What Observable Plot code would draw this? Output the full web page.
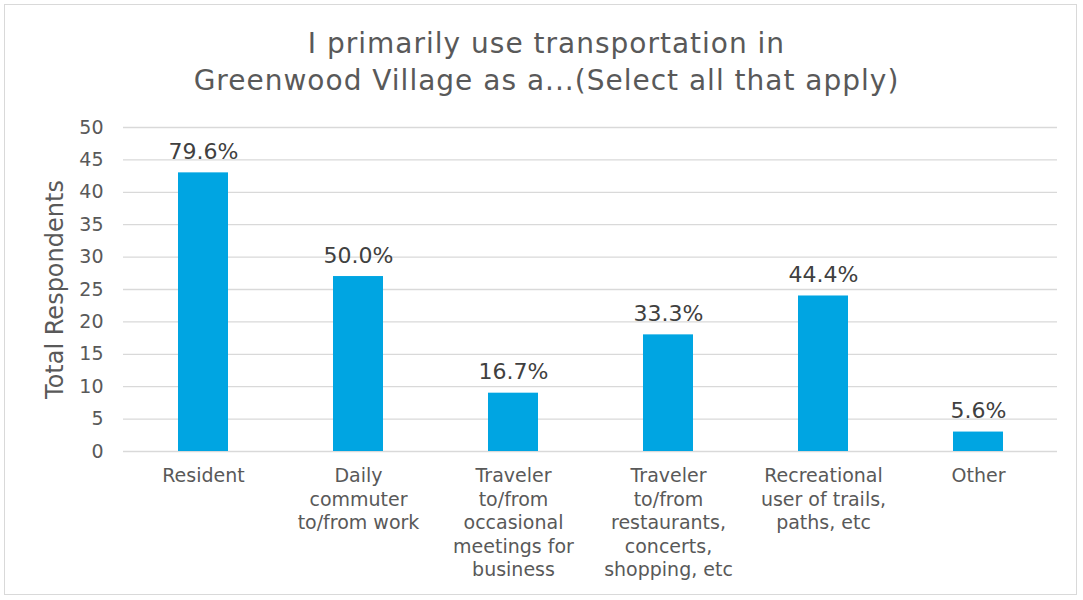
<!DOCTYPE html>
<html>
<head>
<meta charset="utf-8">
<script src="https://cdn.jsdelivr.net/npm/d3@7"></script>
<script src="https://cdn.jsdelivr.net/npm/@observablehq/plot@0.6"></script>
<style>
  body { margin: 0; background: #fff; }
  #frame { position: relative; width: 1073px; height: 591px; margin: 4px 0 0 4px; border: 1px solid #d9d9d9; box-sizing: border-box; overflow: hidden; }
  #title { position: absolute; left: 0px; top: 20px; width: 1083px; text-align: center; font-family: "DejaVu Sans", Verdana, sans-serif; font-size: 28px; letter-spacing: 1px; line-height: 37px; color: #595959; }
  #chart { position: absolute; left: -5px; top: 96px; width: 1083px; height: 499px; }
  #chart svg { max-width: none !important; }
</style>
</head>
<body>
<div id="frame">
  <div id="title">I primarily use transportation in<br>Greenwood Village as a...(Select all that apply)</div>
  <div id="chart"></div>
</div>
<script>
const categories = [
  "Resident",
  "Daily\ncommuter\nto/from work",
  "Traveler\nto/from\noccasional\nmeetings for\nbusiness",
  "Traveler\nto/from\nrestaurants,\nconcerts,\nshopping, etc",
  "Recreational\nuser of trails,\npaths, etc",
  "Other"
];
const respondents = [43, 27, 9, 18, 24, 3];
const percentLabels = ["79.6%", "50.0%", "16.7%", "33.3%", "44.4%", "5.6%"];
const yTicks = [0, 5, 10, 15, 20, 25, 30, 35, 40, 45, 50];

const data = categories.map((c, i) => ({category: c, value: respondents[i], label: percentLabels[i]}));

const chart = Plot.plot({
  width: 1083,
  height: 499,
  marginTop: 26,
  marginBottom: 149,
  marginLeft: 123,
  marginRight: 26,
  style: {fontFamily: "'DejaVu Sans', Verdana, sans-serif", color: "#595959", background: "transparent", overflow: "visible", maxWidth: "none"},
  x: {domain: categories, paddingInner: 0.68, paddingOuter: 0.34, label: null},
  y: {domain: [0, 50], ticks: yTicks, label: null},
  marks: [
    Plot.gridY(yTicks, {stroke: "#d9d9d9", strokeOpacity: 1, strokeWidth: 1.3}),
    Plot.barY(data, {x: "category", y: "value", fill: "#00a5e2"}),
    Plot.text(data, {x: "category", y: "value", text: "label", lineAnchor: "bottom", dy: -14, fontSize: 22, fill: "#404040"}),
    Plot.axisY({ticks: yTicks, tickSize: 0, tickPadding: 20, fontSize: 19, fill: "#595959", label: null, style: {letterSpacing: "1px"}}),
    Plot.axisX({tickSize: 0, tickPadding: 14, fontSize: 19, lineHeight: 1.24, fill: "#595959", label: null, style: {letterSpacing: "0.4px"}}),
    Plot.text(["Total Respondents"], {frameAnchor: "left", textAnchor: "middle", dx: -68, rotate: -90, fontSize: 24, fill: "#595959", style: {letterSpacing: "0.6px"}})
  ]
});
document.getElementById("chart").appendChild(chart);
</script>
</body>
</html>
